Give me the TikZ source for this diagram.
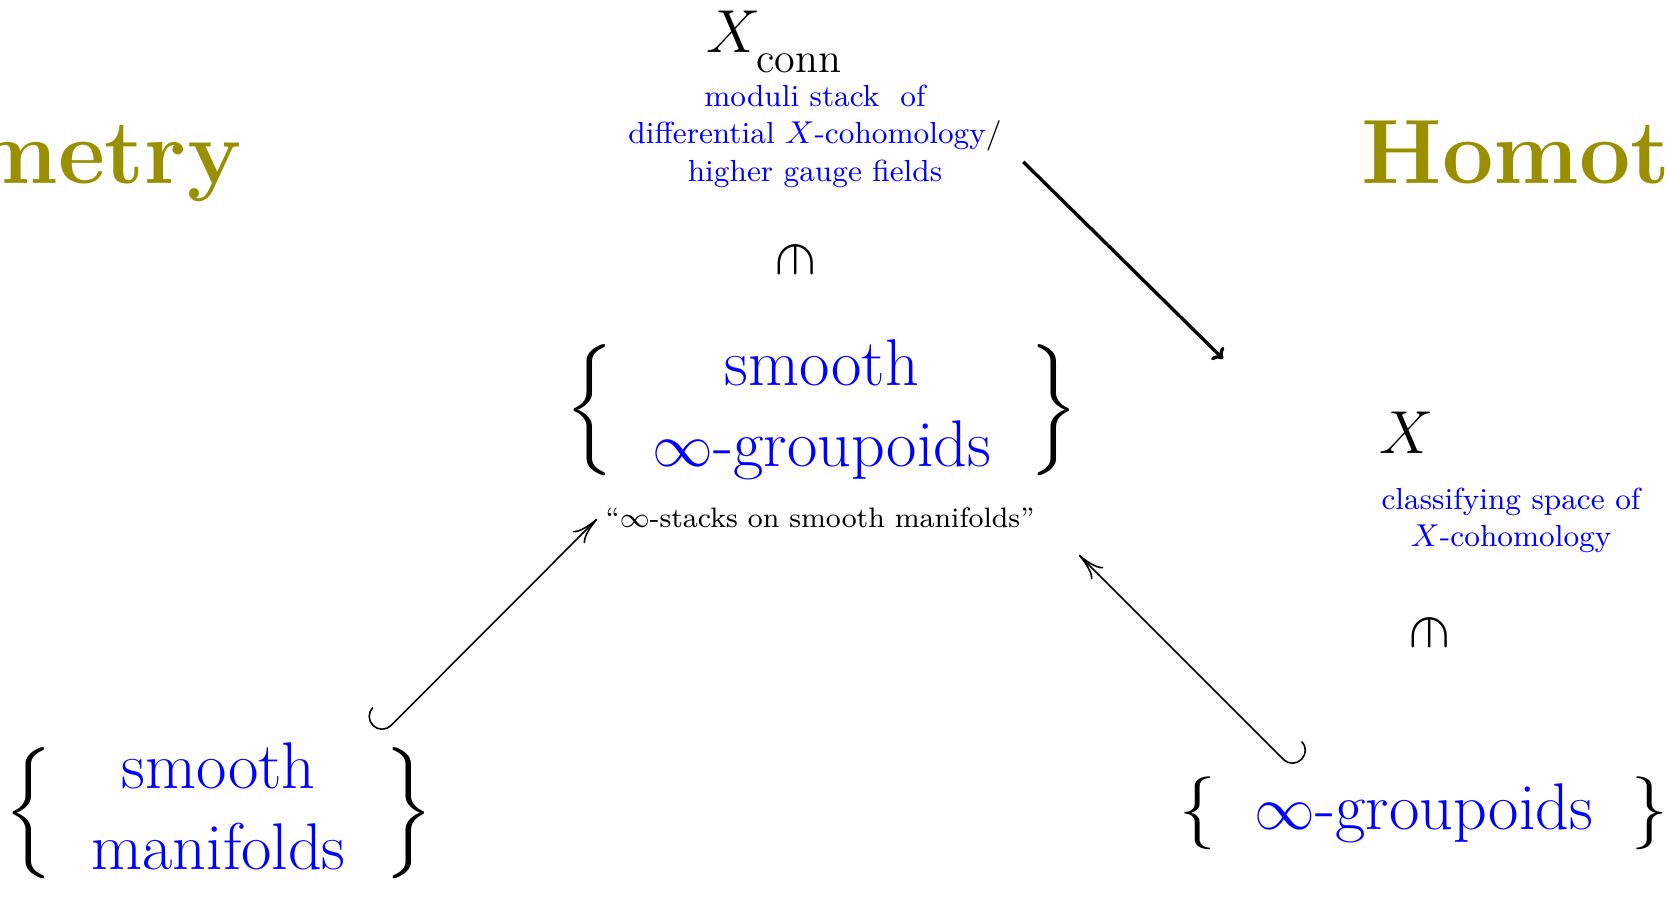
\documentclass[tikz,border=0pt]{standalone}
\usepackage{amsmath}
\usepackage{array}
\usepackage{tikz}
\usetikzlibrary{arrows.meta}
\definecolor{titleolive}{RGB}{153,143,0}
\DeclareMathSizes{18.8}{18.8}{13.2}{9.4}

% braces (at \huge) round a blue column of words
\newcommand{\setof}[1]{{\huge\renewcommand{\arraystretch}{0.92}%
  \delimiterfactor=800 \delimitershortfall=10pt
  $\left\{\begin{tabular}{@{\hspace{11pt}}>{\fontsize{18.8}{23}\selectfont\color{blue}}c@{\hspace{11pt}}}#1\end{tabular}\right\}$}}

\begin{document}
\begin{tikzpicture}[
    every node/.style={inner sep=0pt},
    title/.style={font=\fontsize{26}{30}\selectfont\bfseries,text=titleolive},
    symb/.style={font=\fontsize{18.8}{23}\selectfont},
    gloss/.style={font=\fontsize{8.67}{10.6}\selectfont,text=blue,align=center},
    memb/.style={font=\LARGE,rotate=-90},
    incl/.style={line width=0.45pt},
    map/.style={-{To[length=2.6pt,width=5pt]},line width=0.95pt},
  ]
  \useasboundingbox (0,0) rectangle (16.69,-8.98);

  % the two headings, cut by the page
  \node[title,anchor=base east] (geo) at (2.42,-1.83) {Geometry};
  \node[title,anchor=base west] (homot) at (13.61,-1.83) {Homotopy};

  % top
  \node[symb,anchor=base west] (Xconn) at (7.06,-0.53)
    {$X_{\lower3pt\hbox{\fontsize{12}{14}\selectfont conn}}$};
  \node[gloss,anchor=north] (Xconn-gloss) at (8.15,-0.845)
    {moduli stack \ of\\ differential $X$-cohomology{\color{black}/}\\ higher gauge fields};
  \node[memb] (Xconn-in) at (7.96,-2.60) {$\in$};

  % middle
  \node (smgpd) at (8.22,-4.10) {\setof{smooth\\$\infty$-groupoids}};
  \node[font=\fontsize{8}{10}\selectfont,anchor=base] (stacks) at (8.20,-5.27)
    {``$\infty$-stacks on smooth manifolds''};

  % right
  \node[symb,anchor=base west] (X) at (13.79,-4.53) {$X$};
  \node[gloss,anchor=north] (X-gloss) at (15.11,-4.87) {classifying space of\\ $X$-cohomology};
  \node[memb] (X-in) at (14.30,-6.33) {$\in$};

  % bottom
  \node (mfd) at (2.185,-8.13) {\setof{smooth\\manifolds}};
  \node (gpd) at (14.24,-8.135) {\setof{$\infty$-groupoids}};

  \draw[incl,{Hooks[right,width=15pt,length=3.8pt]}-{To[length=7.5pt,width=4.8pt]}]
    ([shift={(1.63,0.78)}]mfd.center) -- ([shift={(-2.25,-1.09)}]smgpd.center);
  \draw[incl,{Hooks[left,width=15pt,length=3.8pt]}-{To[length=7.5pt,width=4.8pt]}]
    ([shift={(-1.31,0.445)}]gpd.center) -- ([shift={(2.57,-1.45)}]smgpd.center);
  \draw[map] ([shift={(0.21,-0.255)}]Xconn-gloss.east) -- ([shift={(-1.56,0.52)}]X.north west);
\end{tikzpicture}
\end{document}
